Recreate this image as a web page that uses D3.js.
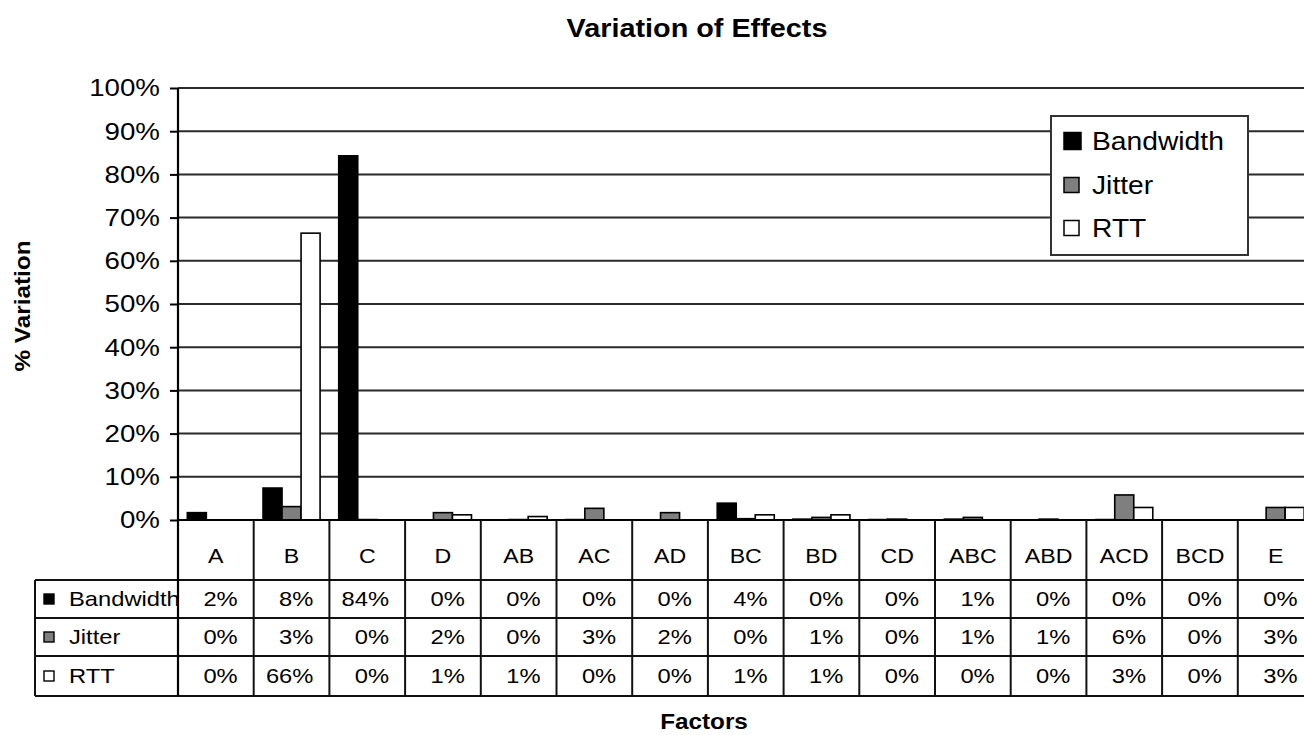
<!DOCTYPE html>
<html>
<head>
<meta charset="utf-8">
<script src="https://cdn.jsdelivr.net/npm/d3@7"></script>
<style>
  html, body { margin: 0; padding: 0; background: #fff; }
  svg { display: block; font-family: "Liberation Sans", Arial, Helvetica, sans-serif; }
</style>
</head>
<body>
<svg id="chart" width="1304" height="735"></svg>
<script>
// ---------- data ----------
const categories = ["A","B","C","D","AB","AC","AD","BC","BD","CD","ABC","ABD","ACD","BCD","E"];
const seriesNames = ["Bandwidth","Jitter","RTT"];
const bandwidth = [1.7, 7.4, 84.3, 0, 0, 0.1, 0, 3.9, 0.2, 0.1, 0.2, 0, 0.1, 0, 0];
const jitter    = [0, 3.1, 0.1, 1.7, 0.1, 2.7, 1.7, 0.3, 0.6, 0.2, 0.6, 0.2, 5.8, 0, 2.9];
const rtt       = [0, 66.4, 0, 1.2, 0.8, 0, 0, 1.2, 1.2, 0, 0, 0, 2.9, 0, 2.9];
const tableBandwidth = ["2%","8%","84%","0%","0%","0%","0%","4%","0%","0%","1%","0%","0%","0%","0%"];
const tableJitter    = ["0%","3%","0%","2%","0%","3%","2%","0%","1%","0%","1%","1%","6%","0%","3%"];
const tableRtt       = ["0%","66%","0%","1%","1%","0%","0%","1%","1%","0%","0%","0%","3%","0%","3%"];
const yTicks = [0,10,20,30,40,50,60,70,80,90,100];
const titleText = "Variation of Effects";
const yTitle = "% Variation";
const xTitle = "Factors";

// ---------- layout ----------
const SX = 1.13; // horizontal stretch of the original typeface
const plotLeft = 178, plotTop = 88, plotBottom = 520;
const colW = 75.7;
const plotRight = plotLeft + colW * categories.length;
const tableLeft = 35;
const rowLines = [580, 618, 656, 696];
const colors = { Bandwidth: "#000000", Jitter: "#7f7f7f", RTT: "#ffffff" };

const svg = d3.select("#chart");

function stext(parent, x, y, str, size, anchor, weight, rotate) {
  const g = parent.append("g")
    .attr("transform", `translate(${x},${y})` + (rotate ? ` rotate(${rotate})` : "") + ` scale(${SX},1)`);
  g.append("text")
    .attr("text-anchor", anchor || "start")
    .attr("font-size", size)
    .attr("font-weight", weight || "normal")
    .attr("fill", "#000")
    .text(str);
  return g;
}

const x = d3.scaleBand().domain(categories).range([plotLeft, plotRight]).padding(0);
const xs = d3.scaleBand().domain(seriesNames).range([0, x.bandwidth()]).paddingInner(0).paddingOuter(0.49);
const y = d3.scaleLinear().domain([0, 100]).range([plotBottom, plotTop]);

// gridlines
svg.append("g").selectAll("line").data(yTicks.filter(d => d > 0)).join("line")
  .attr("x1", plotLeft).attr("x2", plotRight)
  .attr("y1", d => y(d)).attr("y2", d => y(d))
  .attr("stroke", "#2a2a2a").attr("stroke-width", 2);

// bars
const seriesData = [
  { name: "Bandwidth", values: bandwidth },
  { name: "Jitter", values: jitter },
  { name: "RTT", values: rtt }
];
const bars = [];
seriesData.forEach(s => s.values.forEach((v, i) => bars.push({ s: s.name, c: categories[i], v })));
svg.append("g").selectAll("rect").data(bars.filter(d => d.v > 0)).join("rect")
  .attr("x", d => x(d.c) + xs(d.s))
  .attr("width", xs.bandwidth())
  .attr("y", d => y(d.v))
  .attr("height", d => y(0) - y(d.v))
  .attr("fill", d => colors[d.s])
  .attr("stroke", "#000").attr("stroke-width", 1.6);

// y axis
const yAxis = d3.axisLeft(y).tickValues(yTicks).tickFormat(d => d + "%").tickSize(8).tickPadding(8);
const ya = svg.append("g").attr("transform", `translate(${plotLeft},0)`).call(yAxis);
ya.select(".domain").remove();
ya.selectAll(".tick line").attr("stroke", "#000").attr("stroke-width", 2);
ya.selectAll(".tick text")
  .attr("font-size", 24.5)
  .attr("font-family", "Liberation Sans, Arial, sans-serif")
  .attr("fill", "#000")
  .attr("transform", `scale(${SX},1)`);

// baseline (0%)
svg.append("line").attr("x1", plotLeft).attr("x2", plotRight)
  .attr("y1", y(0)).attr("y2", y(0)).attr("stroke", "#000").attr("stroke-width", 2.2);

// table
const tg = svg.append("g");
rowLines.forEach(ly => {
  tg.append("line").attr("x1", tableLeft).attr("x2", plotRight)
    .attr("y1", ly).attr("y2", ly).attr("stroke", "#111").attr("stroke-width", 2);
});
tg.append("line").attr("x1", tableLeft).attr("x2", tableLeft)
  .attr("y1", rowLines[0]).attr("y2", rowLines[3]).attr("stroke", "#111").attr("stroke-width", 2);
tg.append("line").attr("x1", plotLeft).attr("x2", plotLeft)
  .attr("y1", plotTop).attr("y2", rowLines[3]).attr("stroke", "#000").attr("stroke-width", 2.2);
tg.selectAll("line.col").data(categories).join("line").attr("class", "col")
  .attr("x1", d => x(d) + x.bandwidth()).attr("x2", d => x(d) + x.bandwidth())
  .attr("y1", plotBottom).attr("y2", rowLines[3]).attr("stroke", "#111").attr("stroke-width", 2);

categories.forEach(c => stext(tg, x(c) + x.bandwidth() / 2, 563, c, 20.5, "middle"));

const tableRows = [
  { name: "Bandwidth", vals: tableBandwidth },
  { name: "Jitter", vals: tableJitter },
  { name: "RTT", vals: tableRtt }
];
const clip = svg.append("clipPath").attr("id", "lblclip");
clip.append("rect").attr("x", tableLeft).attr("y", rowLines[0]).attr("width", plotLeft - tableLeft - 1).attr("height", rowLines[3] - rowLines[0]);
tableRows.forEach((r, i) => {
  const top = rowLines[i], bot = rowLines[i + 1];
  const mid = (top + bot) / 2;
  tg.append("rect").attr("x", 44).attr("y", mid - 5).attr("width", 10).attr("height", 10)
    .attr("fill", colors[r.name]).attr("stroke", "#000").attr("stroke-width", 1.4);
  const lg = tg.append("g").attr("clip-path", "url(#lblclip)");
  stext(lg, 69, mid + 7, r.name, 21, "start");
  r.vals.forEach((v, j) => {
    const c = categories[j];
    stext(tg, x(c) + x.bandwidth() - 16, mid + 7, v, 21, "end");
  });
});

// legend
const lg = svg.append("g");
lg.append("rect").attr("x", 1051).attr("y", 116).attr("width", 197).attr("height", 139)
  .attr("fill", "#fff").attr("stroke", "#333").attr("stroke-width", 2);
const legendY = [141, 185, 228];
seriesNames.forEach((n, i) => {
  const sz = i === 0 ? 17 : 15;
  lg.append("rect").attr("x", 1064).attr("y", legendY[i] - sz / 2).attr("width", sz).attr("height", sz)
    .attr("fill", colors[n]).attr("stroke", "#000").attr("stroke-width", 1.5);
  stext(lg, 1092, legendY[i] + 9, n, 25, "start");
});

// titles
stext(svg, 697, 37, titleText, 25.5, "middle", "bold");
stext(svg, 704, 729, xTitle, 21.5, "middle", "bold");
stext(svg, 30, 306, yTitle, 21.5, "middle", "bold", -90);
</script>
</body>
</html>
